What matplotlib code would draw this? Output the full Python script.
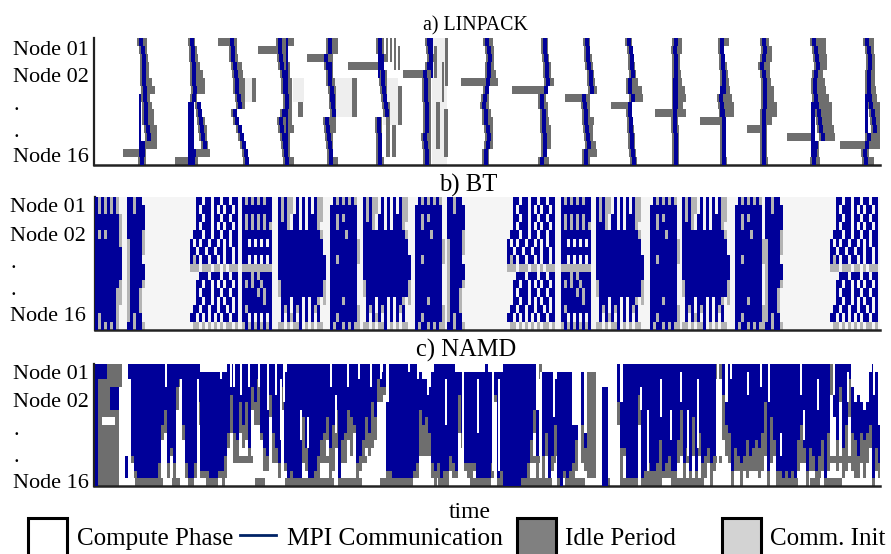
import matplotlib
matplotlib.use('Agg')
import matplotlib.pyplot as plt
from matplotlib.patches import Rectangle
from matplotlib.lines import Line2D

BLUE = '#000099'
IDLE = '#6e6e6e'
IDLE_BT = '#b4b4b4'
INIT = '#eeeeee'
plt.rcParams['font.family'] = ['Liberation Serif', 'DejaVu Serif']

W, H = 891, 554
node_labels = ['Node 01', 'Node 02', '.', '.', 'Node 16']

# LINPACK: one wave per iteration, time in picture units
wave_start = [139, 190, 230, 278, 328, 378, 427, 485, 542, 585, 627, 673, 720, 762, 812, 865]
blue_offset = [
    [0, 2, 3, 3, 3, 3, 4, 4, 5, 5, 5, 7, 8, 2, 2, 1],
    [0, 1, 1, 2, 2, 2, 3, 2, 7, 8, 9, 10, 11, 13, 2, 1],
    [0, 1, 1, 3, 4, 5, 5, 7, 8, 3, 5, 8, 10, 12, 14, 15],
    [0, 0, 1, 2, 4, 5, 5, 7, 7, 4, 1, 2, 4, 5, 6, 7],
    [0, 0, -4, -2, 0, 0, 2, 3, 3, 4, -3, -2, -1, 0, 1, 1],
    [0, 0, 2, 2, 3, 3, 4, 5, 6, 7, -1, -1, 0, 0, 0, 0],
    [0, 1, 2, 0, -4, -3, -3, -3, -2, -2, -2, -2, -4, -3, -2, -2],
    [0, 2, 3, 2, 2, 1, 0, -2, -3, -1, -1, 1, 2, 1, -1, -1],
    [1, 1, 2, 3, 3, 4, 2, -2, -2, 0, 0, 0, 1, 1, 1, -2],
    [0, 1, 1, 2, 4, 4, 5, -3, -2, -1, -1, 0, 1, 2, -1, -1],
    [0, 2, 3, 3, 4, 1, 1, 4, 1, 1, 2, 2, 3, 3, 4, 5],
    [1, 0, 1, 1, 1, 1, 1, 1, 1, 0, 0, 0, 1, 1, 1, 1],
    [0, 0, 1, 1, 2, 2, 2, -1, 0, 1, 2, 2, 2, 2, 2, 2],
    [0, 1, 0, -2, 0, 1, 1, 1, 1, 0, 0, 0, 0, 0, 0, 0],
    [0, 2, 3, 4, 2, 1, 1, 2, 3, 5, 6, 7, 9, 2, 1, 0],
    [0, 2, 3, 3, 2, 2, 2, 3, 4, 6, 7, 8, 2, 0, -2, -1],
]
idle_end = [
    [8, 8, 9, 10, 10, 13, 16, 11, 13, 15, 15, 18, 18, 18, 7, 7],
    [5, 7, 8, 10, 13, 15, 15, 7, 10, 12, 15, 17, 17, 18, 20, 8],
    [7, 7, 8, 12, 13, 15, 15, 15, 15, 4, 6, 9, 13, 15, 17, 19],
    [16, 8, 10, 12, 12, 14, 14, 14, 14, 14, 14, 16, 12, 12, 12, 16],
    [10, 10, 5, 5, 5, 7, 8, 8, 8, 8, 8, 8, 5, 5, 5, 10],
    [6, 6, 8, 6, 9, 9, 9, 9, 10, 10, 4, 4, 4, 4, 4, 6],
    [6, 6, 8, 6, 4, 4, 4, 4, 4, 4, 4, 4, 4, 4, 4, 4],
    [8, 9, 9, 9, 11, 13, 4, 4, 4, 6, 8, 8, 8, 8, 4, 4],
    [6, 6, 7, 9, 9, 12, 4, 4, 6, 6, 7, 9, 9, 9, 5, 7],
    [5, 5, 7, 8, 9, 10, 12, 5, 5, 5, 9, 8, 8, 11, 12, 5],
    [5, 6, 7, 8, 9, 11, 15, 16, 3, 5, 6, 7, 8, 8, 9, 10],
    [9, 9, 7, 7, 8, 9, 12, 13, 10, 13, 5, 6, 6, 6, 6, 6],
    [9, 4, 5, 7, 8, 9, 10, 12, 14, 14, 6, 6, 6, 6, 6, 7],
    [7, 10, 10, 8, 8, 9, 12, 12, 15, 15, 10, 5, 5, 5, 5, 6],
    [14, 14, 15, 15, 11, 13, 14, 17, 20, 20, 20, 22, 23, 7, 7, 8],
    [9, 9, 10, 10, 10, 10, 11, 12, 15, 17, 16, 17, 16, 16, 4, 9],
]
spine_offset = [0, -2, 0, 8, 2, 0, 4, 0, 0, 0, 0, 0, 0, 0, -1, 0]
spine_width = [2, 6, 2, 2, 2, 2, 2, 2, 2, 2, 2, 3, 3, 4, 4, 3]
spine_from = [7, 8, 0, 0, 3, 0, 0, 0, 0, 0, 0, 5, 6, 9, 8, 7]
spine_to = [15, 16, 0, 14, 8, 5, 5, 0, 0, 0, 0, 9, 10, 12, 15, 12]
late_row = [14, 15, 0, 1, 2, 3, 4, 5, 6, 7, 8, 9, 10, 11, 12, 13]
late_from = [123, 175, 218, 258, 307, 348, 403, 461, 512, 565, 611, 655, 700, 747, 787, 840]
linpack_init = [(245, 252, 5, 8), (293, 304, 5, 8), (335, 352, 5, 10), (383, 398, 5, 11),
                (432, 447, 0, 16), (466, 480, 5, 6), (520, 536, 6, 7), (570, 578, 7, 8),
                (847, 858, 13, 14), (870, 880, 12, 13)]
linpack_extra_idle = [(252, 256, 5, 8), (298, 303, 8, 10), (352, 357, 5, 10), (363, 370, 3, 3.9),
                      (382, 384, 0, 3), (386, 388, 0, 3), (390, 392, 0, 3), (394, 396, 0, 4),
                      (398, 400, 1, 4), (398, 402, 6, 11), (386, 390, 8, 15), (392, 396, 11, 15),
                      (434, 437, 1, 5), (442, 444, 3, 8), (445, 448, 0, 6), (436, 440, 8, 14),
                      (444, 448, 9, 15)]

# BT: repeating blocks of 3 unit wide cells, B blue, g idle, . nothing
bt_solid = ['BgBgBgBg.', 'BgBgBgBg.', 'BBBBBBBBg', 'BBBBBBBBg', 'BgBgBBBBg', 'BBBBBBBBg',
            'BBBBBBBBB', 'BBBBBBBBB', 'BBBBBBBBB', 'BBBBBBBBB', 'BBBBBBBBg', 'BBBBBBBgg',
            'BBBBBBBgg', 'BBBBBBBg.', 'BgBBBBBg.', 'BgBgBgBg.']
bt_narrow = ['BBgBB.', 'BBgBBB', 'BBBBBB', 'BBBBBB', 'BBBBBg', 'gBBBBg', 'gBBBBg', 'gBBBB.',
             'gBBBBB', 'gBBBBB', 'gBBBBg', 'gBBBg.', 'gBBBg.', 'gBBBg.', 'gBgBB.', 'BBgBBg']
bt_dotted = ['..BB.BB.BB.BB.BB', '..B.BBB.B.B.BB.B', '..BB.BB.BB.BB.BB', '..B.BBB.B.B.BB.B',
             '.BBB.BB.BB.BB.BB', 'B.B.BB.BB.B.B.BB', 'BB.BB.BB.BB.BB.B', 'BgB.BB.BB.B.BB.B',
             'ggg.ggg.gg.g.ggg', '...BBB.BBB.BB.BB', '..BB.BB.B.B.BB.B', '..B.BBB.BB.BB.BB',
             '..BB.BB.B.B.BB.B', '.BB.BB.BB.BB.B.B', 'BB.B.B.B.B.BB.BB', '.gg.g.g.g.g.gg.g']
bt_grid = ['BgBgBgBgBB', 'BBBBBBBBBB', 'BgBgBgBgBB', 'BgBgBgBgBg', 'BBBBBBBBBB', 'BB.B.B.B.B',
           'BBBBBBBBBB', 'BB.B.B.B.B', 'gggggggggg', 'BBBgBgBBBB', 'BgBgBBgBBB', 'BBBBBgBgBB',
           'BBBBBBBgBB', 'BgBBBBBBBB', 'BB.B.B.B.B', 'gBgBgBgBgB']
bt_stripes = ['BgBgg.B.B.B.Bgg.', 'BgBgg.B.B.B.Bgg.', 'BgBg.BB.B.BBBgg.', 'BBBg.BB.B.BBBg..',
              'BBBBBBBBBBBBBBg.', 'BBBBBBBBBBBBBBB.', 'BBBBBBBBBBBBBBB.', 'BBBBBBBBBBBBBBBB',
              'BBBBBBBBBBBBBBBB', 'BBBBBBBBBBBBBBBB', 'gBBBBBBBBBBBBBBg', 'gBBBBBBBBBBBBBBg',
              '.BBB.BBB.B.BBg.g', '.BgB.BgB.B.BgB..', '.B.BgB.B.B.B.B..', 'gg.g.ggB.g.g.gg.']
bt_notched = ['.BgBgBgBg.', 'BBBBBBBBB.', 'BBgBgBBBB.', 'BBgBBBBBB.', 'BBBBBgBBB.', 'BBBBBBBBBg',
              'BBBBBBBBBg', 'BBgBBBBBBg', 'BBBBBBBBB.', 'BBBBBBBBB.', 'BBBBBBBBB.', 'BBBBBBBBB.',
              'BBBBgBBBB.', 'BBBBBBBBBg', 'BBgBBBBBBg', 'BgBBgBgBgg']
bt_blocks = [(95, bt_solid), (127, bt_narrow), (190, bt_dotted), (242, bt_grid), (278, bt_stripes),
             (330, bt_notched), (363, bt_stripes), (415, bt_notched), (447, bt_narrow),
             (507, bt_dotted), (561, bt_grid), (596, bt_stripes), (650, bt_notched),
             (682, bt_stripes), (735, bt_notched), (765, bt_narrow), (830, bt_dotted)]

# NAMD: per column of 3 units, base 36 digits, groups of ten columns
namd_top = ('0000033300 c000000000 0000000000 0000011111 1111000000 0000000000 0001000000 '
            '0000000000 0000000000 0000010500 0000000012 2310000000 1111111111 0111110000 '
            '0000000601 1112111118 8019111003 3000050000 0000000000 0000000000 0000000000 '
            '5000000000 0000000000 0000000000 0000000000 0035456510 18')
namd_bot = ('g222066600 f2ceffffff fd86dbd328 dffd5eeeff feec949a58 5b3529bc49 bd3dfefff7 '
            'bffeca97b8 6fa9678dca 7957233eef ffffffed68 79dedfeecd e49ddddfff ffd4fegggg '
            'ggffda6c0c 9fc8fgefed a08b11100g g0005bbfff f4fedeedae dceea6dbe7 e9dcbdc004 '
            '89ebcdcacb ab95e7aeef efefa8bebc ecaf907a3b 829ac9a98f bd')
namd_idle = ('0eeegaaa30 0011111111 1223213312 2112311211 1113254343 5233613234 2231112116 '
             '3112334346 5134451223 4363321211 1111111264 5322212322 1521221111 1121120000 '
             '0011233425 3124101113 4053eee000 0000341111 1412222361 2322364245 2333232226 '
             '4423232523 4457362221 2121452332 2341540424 6555345431 32')
namd_band_low = [(100, 112), (135, 163), (172, 180), (188, 193), (222, 225), (255, 265), (285, 334),
                 (339, 362), (380, 395), (438, 448), (470, 476), (497, 505), (520, 552), (565, 585),
                 (606, 610), (620, 632), (643, 655), (677, 702), (777, 798), (810, 820), (827, 842)]
namd_band_mid = [(203, 220), (233, 253), (300, 333), (357, 367), (530, 540), (550, 556),
                 (712, 722), (740, 756), (830, 852)]
namd_extra_idle = [(110, 119, 0, 3), (587, 594, 1, 15)]
namd_gaps = [(102, 115, 7, 8)]
# white stripes inside the blue: time, first row, last row
namd_stripes = [(165, 0, 3), (180, 2, 10), (197, 2, 8), (213, 0, 1), (220, 0, 2), (230, 0, 3),
                (233, 0, 3), (240, 0, 4), (248, 0, 3), (258, 0, 3), (267, 0, 6), (275, 0, 4),
                (280, 2, 10), (283, 0, 5), (300, 6, 10), (307, 7, 11), (330, 0, 3), (335, 4, 9),
                (347, 0, 3), (358, 0, 2), (370, 0, 3), (380, 0, 2), (408, 0, 1), (417, 0, 2),
                (427, 0, 4), (445, 2, 8), (462, 0, 12), (477, 2, 9), (492, 0, 14), (498, 2, 14),
                (540, 1, 4), (553, 0, 7), (573, 0, 2), (640, 3, 6), (647, 6, 14), (660, 2, 7),
                (670, 6, 10), (680, 1, 5), (687, 6, 12), (697, 2, 11), (717, 0, 15), (730, 0, 2),
                (747, 1, 4), (760, 0, 3), (768, 0, 5), (780, 9, 12), (800, 0, 4), (803, 6, 10),
                (817, 2, 6), (833, 0, 4), (847, 1, 5), (857, 0, 3), (867, 0, 5), (873, 0, 4)]


def fig_box(left, top, right, bottom):
    return [left / W, 1 - bottom / H, (right - left) / W, (bottom - top) / H]


def panel(top, bottom, left, tick_rows, pad):
    ax = fig.add_axes(fig_box(left, top, 880, bottom))
    ax.set_xlim(left, 880)
    ax.set_ylim(16, 0)
    ax.spines['top'].set_visible(False)
    ax.spines['right'].set_visible(False)
    ax.spines['left'].set_linewidth(1.6)
    ax.spines['bottom'].set_linewidth(1.8)
    ax.spines['left'].set_color('#222222')
    ax.spines['bottom'].set_color('#222222')
    ax.set_xticks([])
    ax.set_yticks(tick_rows)
    ax.set_yticklabels(node_labels, fontsize=16, ha='left')
    ax.tick_params(axis='y', length=0, pad=pad)
    return ax


def span(ax, t0, t1, r0, r1, color, z=2):
    ax.broken_barh([(t0, t1 - t0)], (r0, r1 - r0), facecolors=color, linewidth=0, zorder=z)


fig = plt.figure(figsize=(W / 100, H / 100), dpi=100)

# a) LINPACK
ax = panel(38, 165, 94, [1.25, 4.7, 8.2, 11.6, 14.8], 58)
for t0, t1, r0, r1 in linpack_init:
    span(ax, t0, t1, r0, r1, INIT, 1)
for t0, t1, r0, r1 in linpack_extra_idle:
    span(ax, t0, t1, r0, r1, IDLE)
for w, start in enumerate(wave_start):
    for r in range(16):
        x = start + blue_offset[w][r]
        span(ax, x - 2, start + idle_end[w][r], r, r + 1, IDLE)
        span(ax, x, x + 4, r, r + 1, BLUE, 3)
    span(ax, late_from[w], start, late_row[w], late_row[w] + 1, IDLE)
    if spine_to[w] > spine_from[w]:
        x = start + spine_offset[w]
        span(ax, x, x + spine_width[w], spine_from[w], spine_to[w], BLUE, 3)

# b) BT
ax = panel(197, 330, 95, [1.0, 4.4, 7.7, 10.9, 14.1], 61)
ax.set_facecolor('#f5f5f5')
for start, block in bt_blocks:
    for r, line in enumerate(block):
        for c, ch in enumerate(line):
            if ch == 'B':
                span(ax, start + c * 3, start + c * 3 + 3, r, r + 1, BLUE, 3)
            elif ch == 'g':
                span(ax, start + c * 3, start + c * 3 + 3, r, r + 1, IDLE_BT)

# c) NAMD
ax = panel(364, 486, 94, [1.05, 4.7, 8.4, 11.9, 15.3], 58)
tops = namd_top.replace(' ', '')
bots = namd_bot.replace(' ', '')
idles = namd_idle.replace(' ', '')
for c in range(len(tops)):
    t = 95 + c * 3
    a, b, g = int(tops[c], 36), int(bots[c], 36), int(idles[c], 36)
    if g:
        span(ax, t, t + 3, b, min(b + g, 16), IDLE)
    if b > a:
        span(ax, t, t + 3, a, b, BLUE, 3)
for t0, t1 in namd_band_low:
    span(ax, t0, t1, 15, 16, IDLE)
for t0, t1 in namd_band_mid:
    span(ax, t0, t1, 12, 13, IDLE)
for t0, t1, r0, r1 in namd_extra_idle:
    span(ax, t0, t1, r0, r1, IDLE)
for t0, t1, r0, r1 in namd_gaps:
    span(ax, t0, t1, r0, r1, 'white', 4)
for t0, r0, r1 in namd_stripes:
    span(ax, t0, t0 + 1.7, r0, r1, 'white', 4)

# titles and legend in figure coordinates
for label, x, y, size in [('a) LINPACK', 475, 26, 14.3), ('b) BT', 468, 185, 17.7),
                          ('c) NAMD', 466, 350, 17.7), ('time', 470, 513, 17)]:
    fig.text(x / W, 1 - y / H, label, ha='center', va='center', fontsize=size)

legend = [('#ffffff', 28, 'Compute Phase', 77), ('#808080', 517, 'Idle Period', 565), ('#d3d3d3', 722, 'Comm. Init', 770)]
for color, x, label, tx in legend:
    fig.add_artist(Rectangle((x / W, 1 - 556 / H), 39 / W, 38 / H, transform=fig.transFigure,
                             facecolor=color, edgecolor='black', linewidth=2.2))
    fig.text(tx / W, 1 - 539 / H, label, va='center', fontsize=18)
fig.add_artist(Line2D([240 / W, 276 / W], [1 - 535 / H] * 2, color='#002266', linewidth=2))
fig.text(287 / W, 1 - 539 / H, 'MPI Communication', va='center', fontsize=18.4)

fig.savefig('out.png', dpi=100)
